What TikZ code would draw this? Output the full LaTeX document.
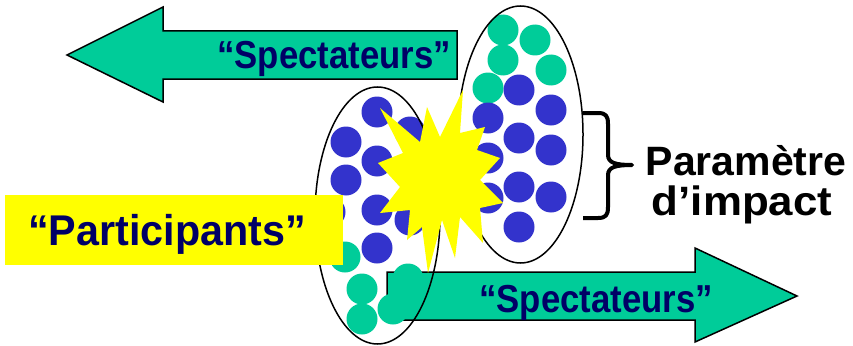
\documentclass[tikz,border=0pt]{standalone}
\usepackage{fontspec}
\setmainfont{Liberation Sans}
\definecolor{arrowteal}{HTML}{00CC99}
\definecolor{dotblue}{HTML}{3333CC}
\definecolor{flashyellow}{HTML}{FFFF00}
\definecolor{labelnavy}{HTML}{000066}
\tikzset{
  bigarrow/.style={fill=arrowteal, draw=black, line width=1.5pt, line join=miter},
  nucleus/.style={line width=1.5pt, draw=black},
  bluedot/.style={fill=dotblue},
  tealdot/.style={fill=arrowteal},
  flash/.style={fill=flashyellow},
  arrowlabel/.style={text=labelnavy, inner sep=0pt, anchor=base,
    font=\fontsize{39pt}{39pt}\selectfont\bfseries},
  boxlabel/.style={text=labelnavy, inner sep=0pt, anchor=base,
    font=\fontsize{43pt}{43pt}\selectfont\bfseries},
  sidelabel/.style={text=black, inner sep=0pt, anchor=base,
    font=\fontsize{41pt}{41pt}\selectfont\bfseries},
  bracepath/.style={draw=black, line width=4pt, line cap=butt, line join=round},
}
\begin{document}
\begin{tikzpicture}[x=1pt, y=-1pt]
\useasboundingbox (0,0) rectangle (853,345);

% outgoing spectator fragments
\path[bigarrow] (67,55) -- (163,7) -- (163,31) -- (457,31) -- (457,79)
  -- (163,79) -- (163,102) -- cycle;
\path[bigarrow] (797,296) -- (695,342) -- (695,320) -- (387,320) -- (387,272)
  -- (695,272) -- (695,248) -- cycle;

% nucleons of the left nucleus
\foreach \p in {(377,112),(410,132),(346,142),(377,161),(346,180),
                (377,210),(410,220),(330,212),(377,248)}
  \fill[bluedot] \p circle[radius=15.5];
\foreach \p in {(345,257),(362,289),(362,319),(408,279),(393,309)}
  \fill[tealdot] \p circle[radius=15.5];

% nucleons of the right nucleus
\foreach \p in {(503,30),(535,40),(503,60),(551,70),(488,88)}
  \fill[tealdot] \p circle[radius=15.5];
\foreach \p in {(519,90),(551,110),(488,118),(519,138),(551,150),(488,158),
                (519,187),(551,197),(488,198),(519,227)}
  \fill[bluedot] \p circle[radius=15.5];

% nucleus outlines
\draw[nucleus] (377.5,215.5) ellipse[x radius=62.5, y radius=128.5];
\draw[nucleus] (520.5,134.5) ellipse[x radius=62.5, y radius=128.5];

% collision flash
\path[flash] (380,108) -- (420,142) -- (427,107) -- (440,137) -- (463,90)
  -- (460,133) -- (485,127) -- (477,150) -- (500,158) -- (480,180)
  -- (503,203) -- (480,208) -- (483,243) -- (460,217) -- (455,258)
  -- (442,220) -- (428,273) -- (422,227) -- (407,240) -- (410,210)
  -- (380,213) -- (400,187) -- (378,163) -- (403,153) -- cycle;

% participants label
\fill[flashyellow] (5,195) rectangle (343,265);
\node[boxlabel] (participants) at (167,245) {\scalebox{0.96}[1]{“Participants”}};

% spectator labels
\node[arrowlabel] (specleft) at (334,68) {\scalebox{0.89}[1]{“Spectateurs”}};
\node[arrowlabel] (specright) at (596,312) {\scalebox{0.89}[1]{“Spectateurs”}};

% impact parameter brace
\path[bracepath] (583,113) -- (598,113) .. controls (606,113) and (608,116) .. (608,124)
  -- (608,155) .. controls (608,163) and (616,165) .. (632,165)
  .. controls (616,165) and (608,167) .. (608,175)
  -- (608,207) .. controls (608,215) and (606,218) .. (598,218) -- (583,218);
\node[sidelabel] (param) at (746,175) {Paramètre};
\node[sidelabel] (impact) at (742,215) {\scalebox{1.07}[1]{d’impact}};
\end{tikzpicture}
\end{document}
